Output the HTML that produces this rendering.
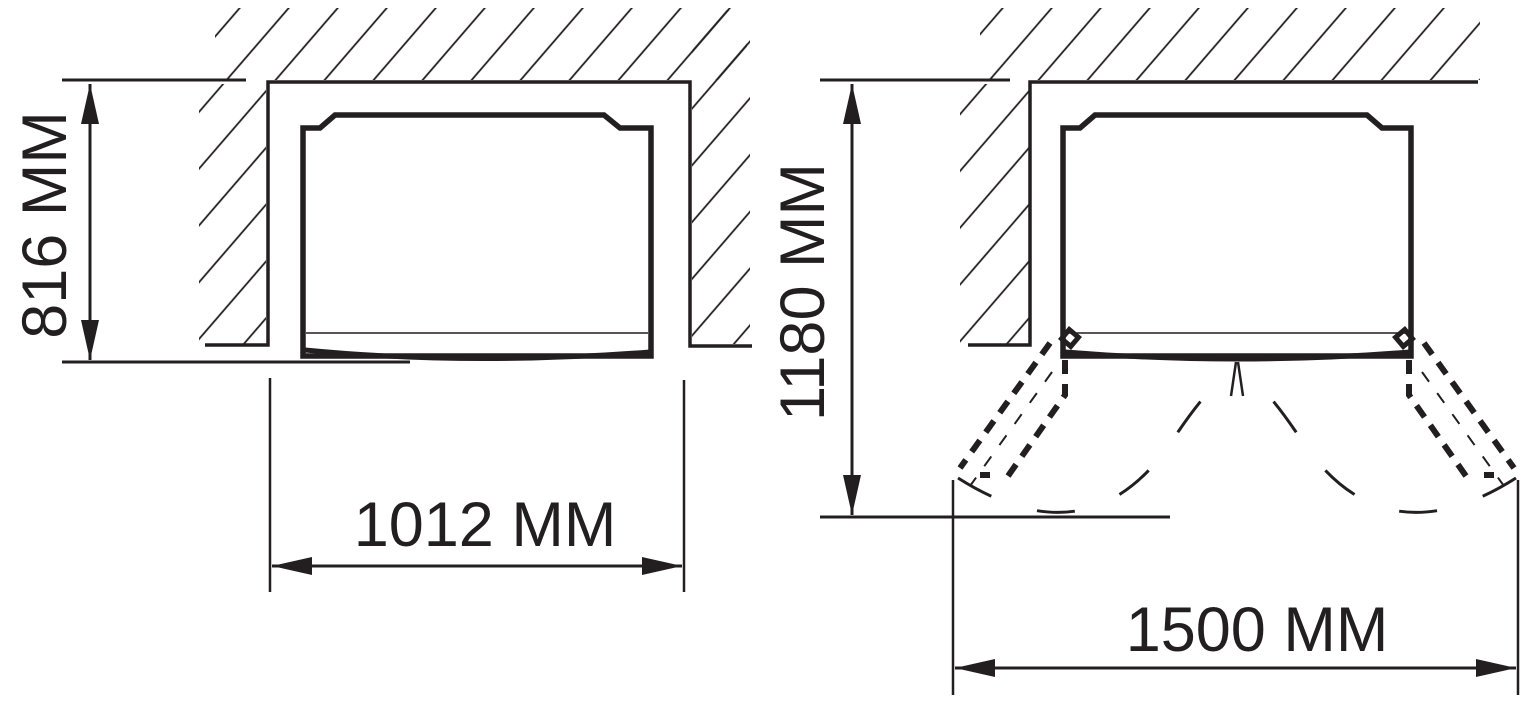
<!DOCTYPE html>
<html><head><meta charset="utf-8"><style>
html,body{margin:0;padding:0;background:#fff;}
svg{display:block;}
text{font-family:"Liberation Sans",sans-serif;fill:#231f20;}
</style></head><body>
<svg width="1532" height="706" viewBox="0 0 1532 706" xmlns="http://www.w3.org/2000/svg">
<defs>
<pattern id="h" patternUnits="userSpaceOnUse" width="37.1" height="10" patternTransform="translate(275.6 80) rotate(40.8) translate(-18.55 0)">
<line x1="18.55" y1="-5" x2="18.55" y2="15" stroke="#231f20" stroke-width="1.8"/>
</pattern>
<pattern id="h2" patternUnits="userSpaceOnUse" width="37.1" height="10" patternTransform="translate(1038.6 80) rotate(40.8) translate(-18.55 0)">
<line x1="18.55" y1="-5" x2="18.55" y2="15" stroke="#231f20" stroke-width="1.8"/>
</pattern>
<marker id="a" viewBox="0 0 40 18" refX="40" refY="9" markerWidth="40" markerHeight="18" markerUnits="userSpaceOnUse" orient="auto-start-reverse">
<path d="M0,0 L40,9 L0,18 z" fill="#231f20"/>
</marker>
</defs>
<g stroke="#231f20" fill="none">
<!-- LEFT hatches -->
<rect x="215" y="8" width="532" height="72" fill="url(#h)" stroke="none"/>
<rect x="199" y="84" width="67" height="260" fill="url(#h)" stroke="none"/>
<rect x="692" y="10" width="58" height="334" fill="url(#h)" stroke="none"/>
<!-- walls -->
<line x1="62" y1="80" x2="246" y2="80" stroke-width="3"/>
<polyline points="205,345 268,345 268,82 690,82 690,346 752,346" stroke-width="3.5"/>
<line x1="62" y1="362" x2="410" y2="362" stroke-width="3"/>
<!-- fridge left -->
<path d="M303,356 L303,128 L320,128 L335,115 L604,115 L620,128 L651,128 L651,356 Z" stroke-width="5.5" fill="#fff"/>
<line x1="306" y1="333" x2="648" y2="333" stroke-width="1.5"/>
<path d="M305,350 Q470,366 650,352" stroke-width="5"/>
<!-- dims left -->
<line x1="90" y1="84" x2="90" y2="360" stroke-width="3" marker-start="url(#a)" marker-end="url(#a)"/>
<line x1="270" y1="378" x2="270" y2="592" stroke-width="2.5"/>
<line x1="684" y1="380" x2="684" y2="592" stroke-width="2.5"/>
<line x1="272" y1="566" x2="682" y2="566" stroke-width="3" marker-start="url(#a)" marker-end="url(#a)"/>

<!-- RIGHT hatches -->
<rect x="980" y="8" width="500" height="72" fill="url(#h2)" stroke="none"/>
<rect x="960" y="84" width="69" height="260" fill="url(#h2)" stroke="none"/>
<line x1="820" y1="80" x2="1010" y2="80" stroke-width="3"/>
<polyline points="968,345 1030,345 1030,82 1478,82" stroke-width="3.5"/>
<line x1="820" y1="517" x2="1170" y2="517" stroke-width="3"/>
<path d="M1063,356 L1063,128 L1080,128 L1095,115 L1367,115 L1382,128 L1411,128 L1411,356 Z" stroke-width="5.5" fill="#fff"/>
<line x1="1066" y1="333" x2="1408" y2="333" stroke-width="1.5"/>
<path d="M1065,352 Q1237,366 1410,352" stroke-width="5"/>
<!-- handles -->
<path d="M1236,362 L1231,396 M1238,362 L1243,396" stroke-width="2.5"/>
<!-- doors -->
<g stroke-width="6" stroke-dasharray="14 10">
<line x1="1050" y1="343" x2="960" y2="468"/>
<path d="M1065,360 L1065,395 L1008,476"/>
<line x1="1424" y1="343" x2="1514" y2="468"/>
<path d="M1409,360 L1409,395 L1466,476"/>
</g>
<line x1="980" y1="475" x2="990" y2="475" stroke-width="6"/>
<line x1="1494" y1="475" x2="1484" y2="475" stroke-width="6"/>
<g stroke-width="2" stroke-dasharray="12 14">
<line x1="1052" y1="372" x2="970" y2="486"/>
<line x1="1422" y1="372" x2="1504" y2="486"/>
</g>
<rect x="1064" y="332" width="12" height="12" stroke-width="5" transform="rotate(40 1070 338)"/>
<rect x="1398" y="332" width="12" height="12" stroke-width="5" transform="rotate(-40 1404 338)"/>
<g stroke-width="3" stroke-dasharray="38 48">
<path d="M958,478 Q1095,565 1178,432 Q1205,392 1232,368"/>
<path d="M1516,478 Q1379,565 1296,432 Q1269,392 1242,368"/>
</g>
<!-- dims right -->
<line x1="852" y1="84" x2="852" y2="515" stroke-width="3" marker-start="url(#a)" marker-end="url(#a)"/>
<line x1="953" y1="480" x2="953" y2="695" stroke-width="2.5"/>
<line x1="1518" y1="480" x2="1518" y2="695" stroke-width="2.5"/>
<line x1="955" y1="668" x2="1516" y2="668" stroke-width="3" marker-start="url(#a)" marker-end="url(#a)"/>
</g>
<text x="485" y="546" font-size="63" text-anchor="middle">1012 ММ</text>
<text x="1257" y="651" font-size="63" text-anchor="middle">1500 ММ</text>
<text transform="translate(66,225) rotate(-90)" font-size="63" text-anchor="middle">816 ММ</text>
<text transform="translate(824,292) rotate(-90)" font-size="63" text-anchor="middle">1180 ММ</text>
</svg>
</body></html>
